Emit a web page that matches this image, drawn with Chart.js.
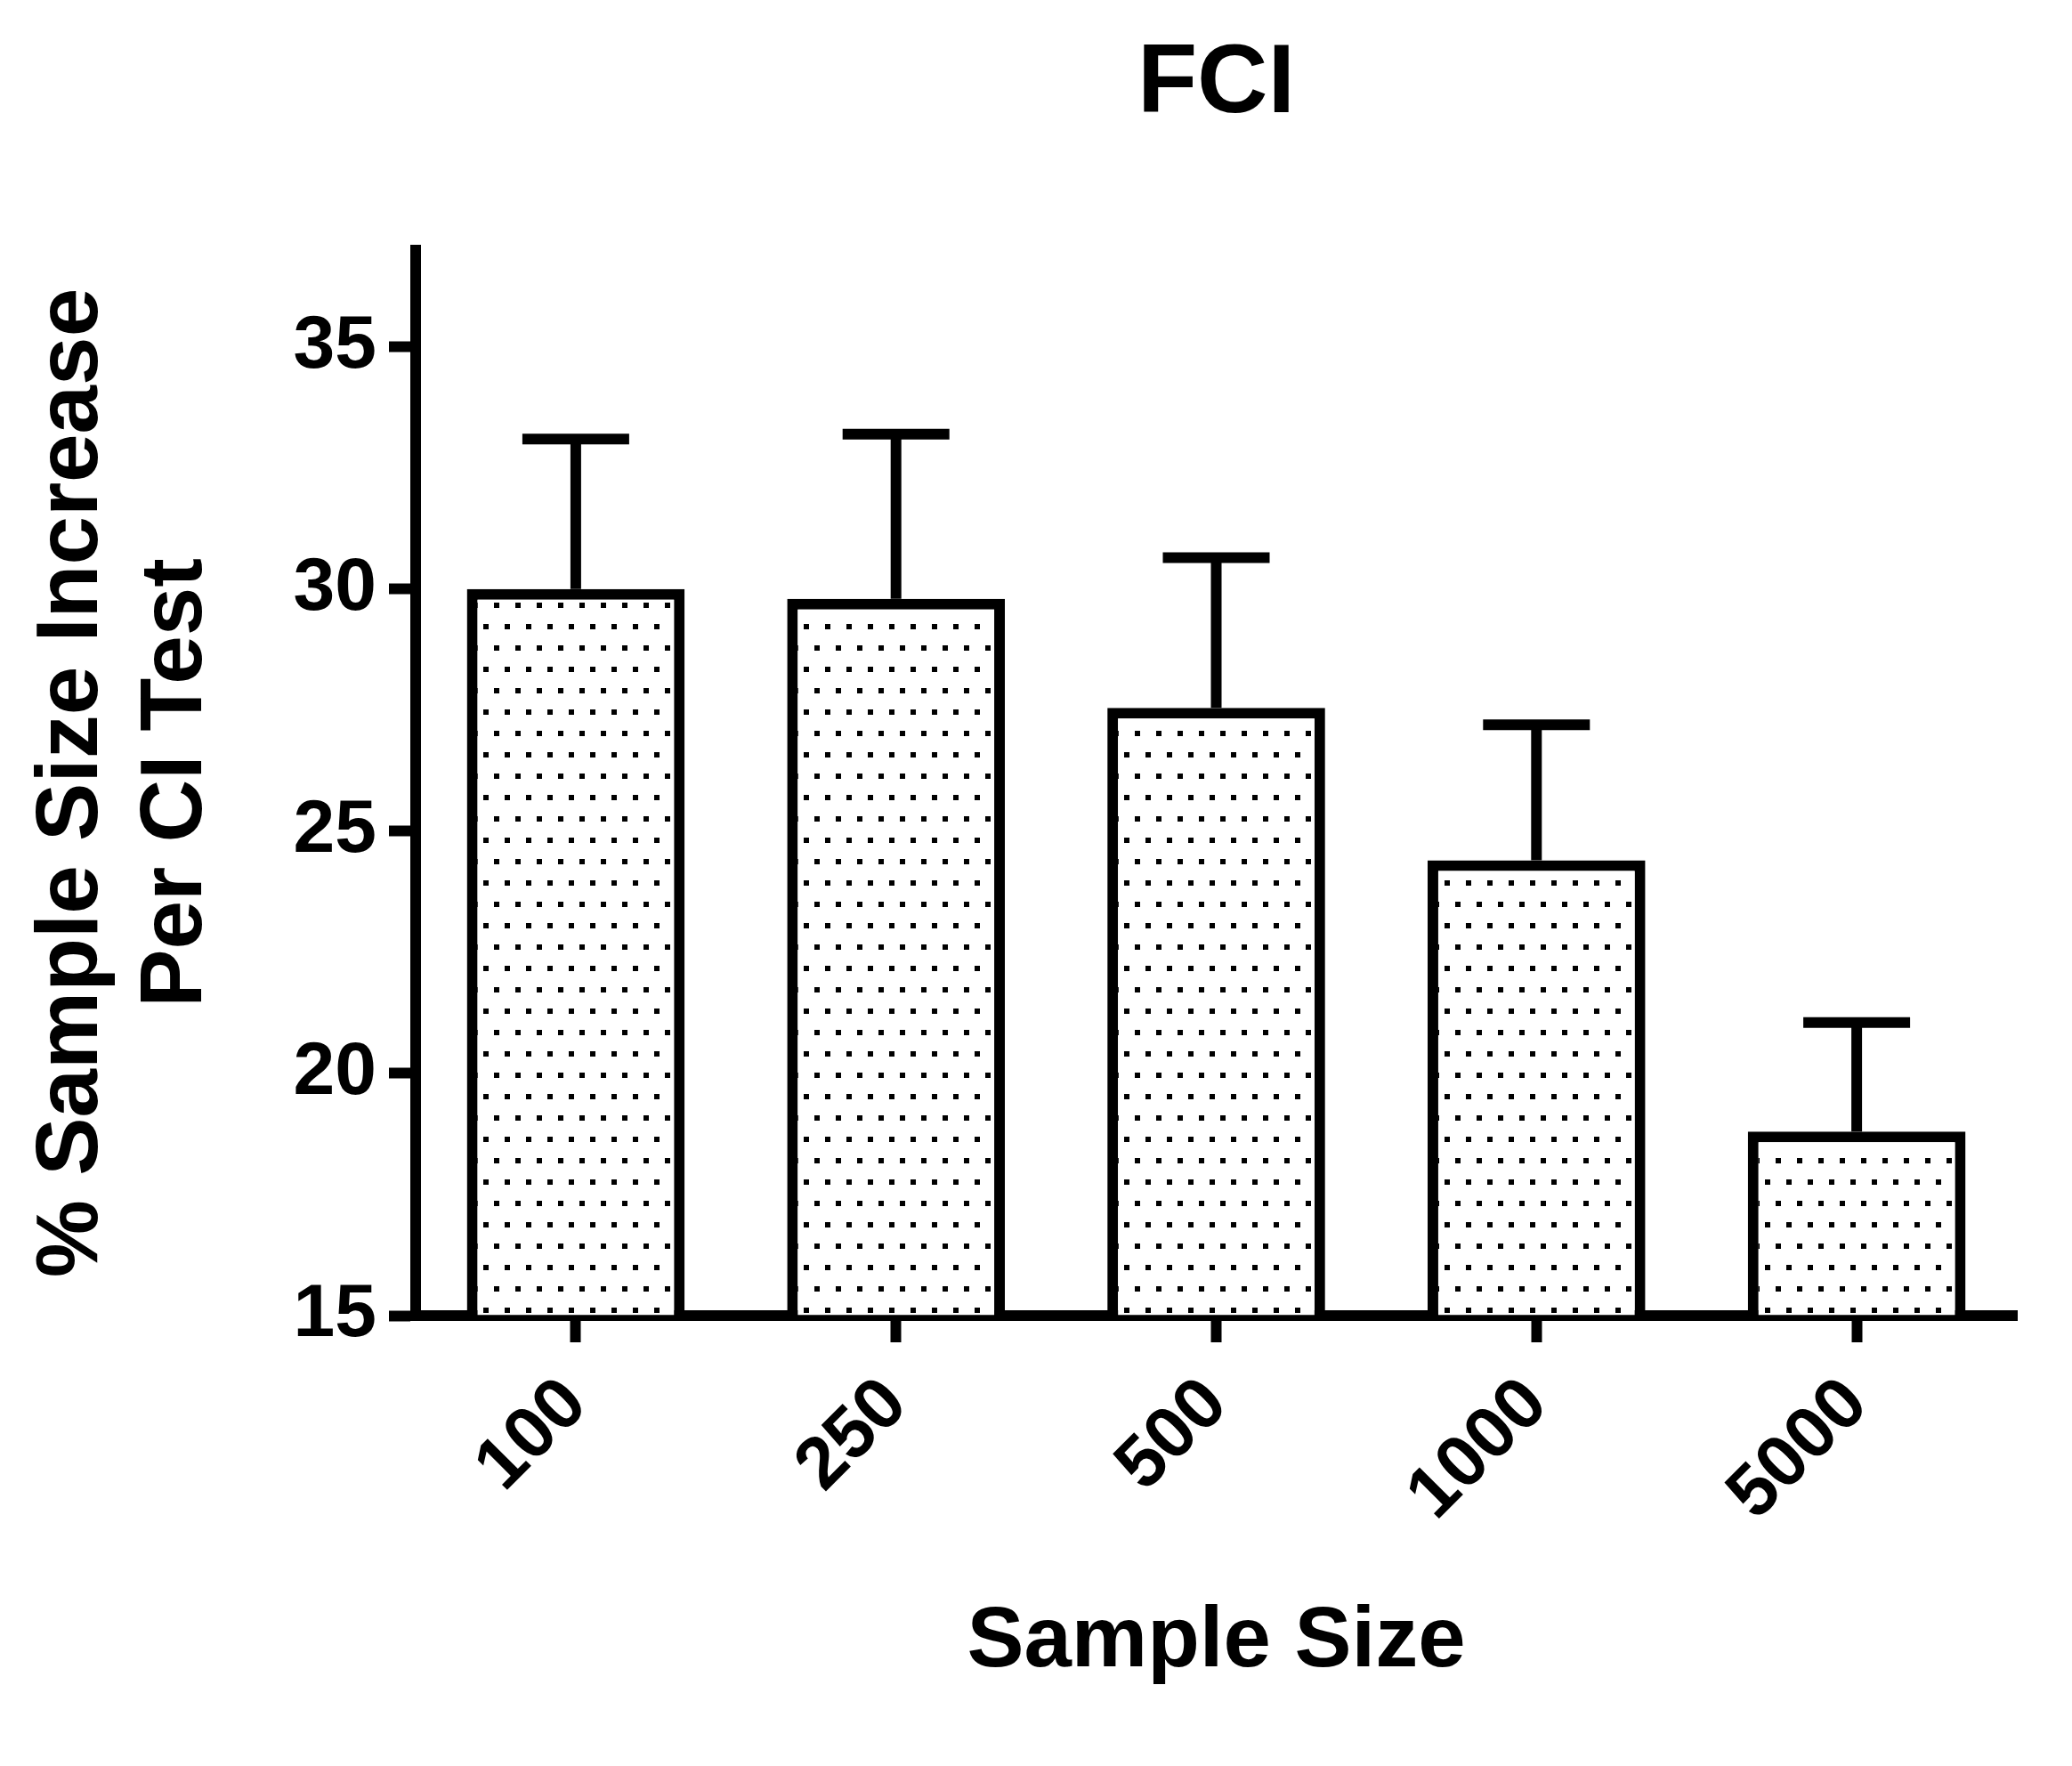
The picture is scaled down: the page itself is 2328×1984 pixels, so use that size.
<!DOCTYPE html>
<html>
<head>
<meta charset="utf-8">
<script src="https://cdn.jsdelivr.net/npm/chart.js@4/dist/chart.umd.min.js"></script>
<style>
  body { margin: 0; background: #fff; }
  canvas { display: block; }
</style>
</head>
<body>
<canvas id="chart1" width="2328" height="1984"></canvas>
<script>
// data
const sampleSizes = ["100", "250", "500", "1000", "5000"];
const means = [30.0, 29.8, 27.55, 24.4, 18.8];
const errors = [3.1, 3.4, 3.1, 2.8, 2.25];   // upper error only
const yTicks = [15, 20, 25, 30, 35];

// dotted fill like the prism pattern
function dotPattern() {
  let c = document.createElement("canvas");
  c.width = 24; c.height = 48;
  let g = c.getContext("2d");
  g.fillStyle = "#fff";
  g.fillRect(0, 0, 24, 48);
  g.fillStyle = "#000";
  g.fillRect(3, 5, 6, 6);
  g.fillRect(15, 29, 6, 6);
  return g.createPattern(c, "repeat");
}

// error bars (upper whisker + cap)
const errorBars = {
  id: "errorBars",
  afterDatasetsDraw(chart) {
    let ctx = chart.ctx;
    let y = chart.scales.y;
    let meta = chart.getDatasetMeta(0);
    ctx.save();
    ctx.strokeStyle = "#000";
    ctx.lineWidth = 12;
    meta.data.forEach((bar, i) => {
      let yBar = y.getPixelForValue(means[i]);
      let yTop = y.getPixelForValue(means[i] + errors[i]);
      ctx.beginPath();
      ctx.moveTo(bar.x, yBar);
      ctx.lineTo(bar.x, yTop);
      ctx.stroke();
      ctx.beginPath();
      ctx.moveTo(bar.x - 60, yTop);
      ctx.lineTo(bar.x + 60, yTop);
      ctx.stroke();
    });
    ctx.restore();
  }
};

Chart.defaults.font.family = "'Liberation Sans', Arial, sans-serif";
Chart.defaults.font.weight = "bold";
Chart.defaults.color = "#000";

let ctx1 = document.getElementById("chart1").getContext("2d");
let chart1 = new Chart(ctx1, {
  type: "bar",
  data: {
    labels: sampleSizes,
    datasets: [{
      data: means,
      base: 15,
      backgroundColor: dotPattern(),
      borderColor: "#000",
      borderWidth: 12,
      borderSkipped: "start",
      categoryPercentage: 1,
      barPercentage: 0.68
    }]
  },
  options: {
    responsive: false,
    animation: false,
    layout: { padding: { left: 0, right: 62, top: 0, bottom: 0 } },
    plugins: {
      legend: { display: false },
      tooltip: { enabled: false },
      title: {
        display: true,
        text: "FCI",
        fullSize: false,
        font: { size: 110, weight: "bold" },
        padding: { top: 30, bottom: 119 }
      }
    },
    scales: {
      x: {
        z: 1,
        grid: { display: true, drawOnChartArea: false, offset: false, tickLength: 30, tickWidth: 12, tickColor: "#000" },
        border: { display: true, color: "#000", width: 12 },
        ticks: { autoSkip: false, maxRotation: 45, minRotation: 45, padding: 22, font: { size: 82 } },
        title: { display: true, text: "Sample Size", font: { size: 96 }, padding: { top: 0, bottom: 81 } },
        afterFit(scale) { scale.height = 506; }
      },
      y: {
        z: 1,
        min: 15,
        max: 37,
        grid: { display: true, drawOnChartArea: false, tickLength: 30, tickWidth: 12, tickColor: "#000" },
        border: { display: true, color: "#000", width: 12 },
        ticks: { stepSize: 5, padding: 14, font: { size: 84 } },
        afterBuildTicks(scale) {
          scale.ticks = yTicks.map(v => ({ value: v }));
        },
        title: {
          display: true,
          text: ["% Sample Size Increase", "Per CI Test"],
          font: { size: 98, lineHeight: 1.2 },
          padding: { top: 23, bottom: 0 }
        },
        afterFit(scale) { scale.width = 467; }
      }
    }
  },
  plugins: [errorBars]
});
</script>
</body>
</html>
